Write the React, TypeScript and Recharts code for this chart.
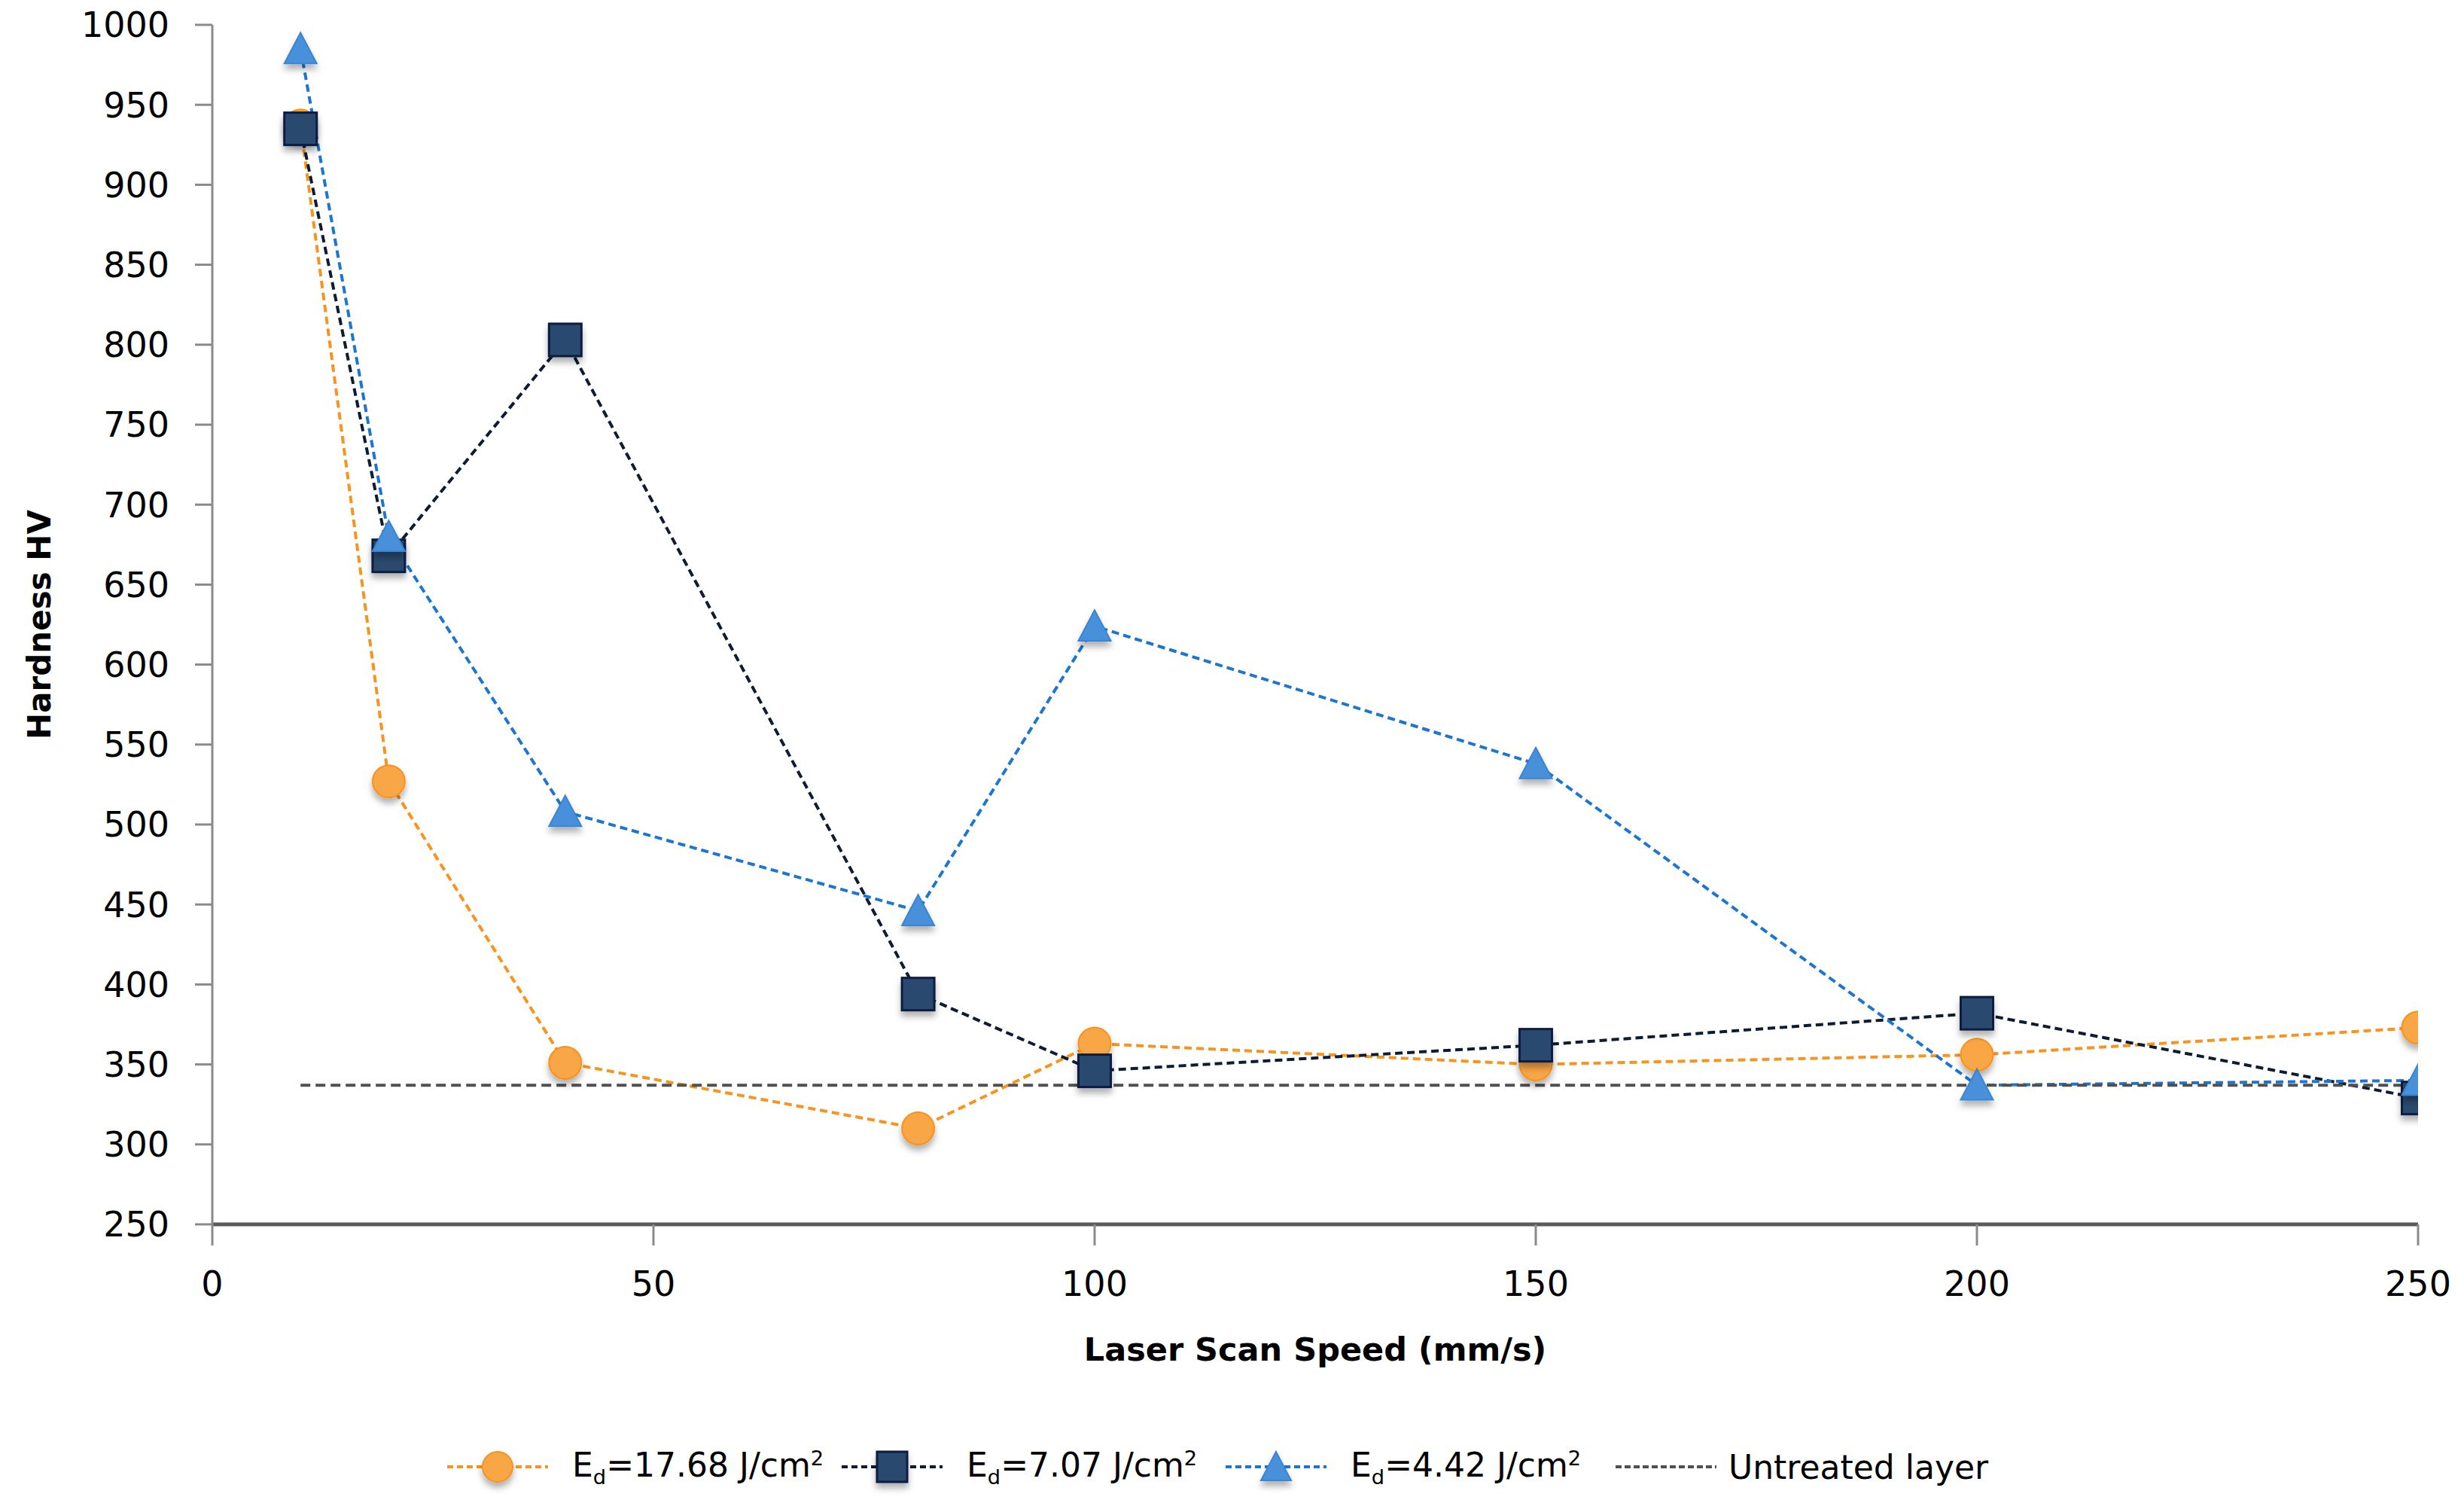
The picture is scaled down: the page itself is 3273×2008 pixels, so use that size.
import React from 'react';
import { LineChart, Line, XAxis, YAxis, Legend, Label } from 'recharts';

// scan speeds (mm/s)
const speeds = [10, 20, 40, 80, 100, 150, 200, 250];
// hardness HV for each energy density
const hv1768 = [937, 527, 351, 310, 363, 350, 356, 373];
const hv707 = [935, 668, 803, 394, 346, 362, 382, 329];
const hv442 = [985, 680, 508, 446, 624, 538, 337, 340];
// untreated layer reference, drawn between first and last speed
const untreatedX = [10, 250];
const untreatedHV = [337, 337];

const xTicks = [0, 50, 100, 150, 200, 250];
const yTicks = [250, 300, 350, 400, 450, 500, 550, 600, 650, 700, 750, 800, 850, 900, 950, 1000];

const seriesOrder = ['e1768', 'e707', 'e442', 'untreated'];

const data = speeds.map((x, i) => ({ x, e1768: hv1768[i], e707: hv707[i], e442: hv442[i] }));
const untreated = untreatedX.map((x, i) => ({ x, untreated: untreatedHV[i] }));

const FONT = '"DejaVu Sans", sans-serif';

const STYLES: Record<string, any> = {
    e1768: { line: '#F7931E', fill: '#F9A646', stroke: '#F7931E', shape: 'circle', dash: '10 6', label: '17.68' },
    e707: { line: '#0D1B33', fill: '#2B4A6E', stroke: '#0B1D3F', shape: 'square', dash: '10 6', label: '7.07' },
    e442: { line: '#1C75D2', fill: '#4A90DA', stroke: '#3A84D4', shape: 'triangle', dash: '10 6', label: '4.42' },
    untreated: { line: '#505050', shape: 'none', dash: '13 7' },
};

function Marker({ cx, cy, kind, size }: { cx: number, cy: number, kind: string, size: number }) {
    const s = STYLES[kind];
    const h = size / 2;
    if (s.shape === 'circle')
        return <circle cx={cx} cy={cy} r={h} fill={s.fill} stroke={s.stroke} strokeWidth={2} filter="url(#mshadow)" />;
    if (s.shape === 'square')
        return <rect x={cx - h} y={cy - h} width={size} height={size} fill={s.fill} stroke={s.stroke} strokeWidth={3} filter="url(#mshadow)" />;
    if (s.shape === 'triangle')
        return <polygon points={`${cx},${cy - h} ${cx + h},${cy + h * 0.9} ${cx - h},${cy + h * 0.9}`} fill={s.fill} stroke={s.stroke} strokeWidth={2} filter="url(#mshadow)" />;
    return null;
}

const dotFor = (kind: string) => (props: any) => (
    <Marker key={`${kind}-${props.index}`} cx={props.cx} cy={props.cy} kind={kind} size={43} />
);

const legendSlots = [524, 510, 518, 560];

function LegendText({ dataKey }: { dataKey: string }) {
    if (dataKey === 'untreated') return <span>Untreated layer</span>;
    return (
        <span>
            E<sub style={{ fontSize: '0.62em', verticalAlign: '-0.35em' }}>d</sub>={STYLES[dataKey].label} J/cm
            <sup style={{ fontSize: '0.62em', verticalAlign: '0.55em' }}>2</sup>
        </span>
    );
}

const renderLegend = (props: any) => {
    const payload = [...(props.payload || [])].sort(
        (a: any, b: any) => seriesOrder.indexOf(a.dataKey) - seriesOrder.indexOf(b.dataKey));
    return (
        <div style={{ display: 'flex', justifyContent: 'flex-start', paddingLeft: 594, fontFamily: FONT, fontSize: 44, color: '#000' }}>
            {payload.map((entry: any, i: number) => {
                const key = entry.dataKey;
                const s = STYLES[key];
                return (
                    <div key={key} style={{ display: 'flex', alignItems: 'center', width: legendSlots[i], flex: 'none' }}>
                        <svg width={134} height={60} style={{ marginRight: key === 'untreated' ? 16 : 32, overflow: 'visible' }}>
                            <line x1={0} y1={30} x2={134} y2={30} stroke={s.line} strokeWidth={4} strokeDasharray={key === 'untreated' ? '8 4' : '8 5'} />
                            <Marker cx={67} cy={30} kind={key} size={40} />
                        </svg>
                        <LegendText dataKey={key} />
                    </div>
                );
            })}
        </div>
    );
};

const YTitle = (props: any) => {
    const { viewBox } = props;
    const cy = viewBox.y + viewBox.height / 2;
    return (
        <text x={52} y={cy} transform={`rotate(-90, 52, ${cy})`} textAnchor="middle" dominantBaseline="central"
            fontFamily={FONT} fontWeight="bold" fontSize={42} fill="#000">Hardness HV</text>
    );
};

const XTitle = (props: any) => {
    const { viewBox } = props;
    return (
        <text x={viewBox.x + viewBox.width / 2} y={viewBox.y + 166} textAnchor="middle" dominantBaseline="central"
            fontFamily={FONT} fontWeight="bold" fontSize={43} fill="#000">Laser Scan Speed (mm/s)</text>
    );
};

const App: React.FC = () => (
    <div style={{ position: 'relative', width: 3273, height: 2008, background: '#fff' }}>
        <style>{'body{margin:0;background:#fff}'}</style>
        <svg width={0} height={0} style={{ position: 'absolute' }}>
            <defs>
                <filter id="mshadow" x="-50%" y="-50%" width="200%" height="220%">
                    <feDropShadow dx={0} dy={7} stdDeviation={4} floodColor="#000" floodOpacity={0.3} />
                </filter>
            </defs>
        </svg>
        <LineChart width={3273} height={2008} data={data} margin={{ top: 33, right: 61, bottom: 0, left: 0 }}>
            <XAxis dataKey="x" type="number" domain={[0, 250]} ticks={xTicks} allowDataOverflow
                height={382} tickSize={28} tickMargin={34}
                axisLine={{ stroke: '#5a5a5a', strokeWidth: 5 }} tickLine={{ stroke: '#8a8a8a', strokeWidth: 3 }}
                tick={{ fontFamily: FONT, fontSize: 46, fill: '#000' }}>
                <Label content={<XTitle />} />
            </XAxis>
            <YAxis type="number" domain={[250, 1000]} ticks={yTicks} interval={0} allowDataOverflow
                width={282} tickSize={23} tickMargin={34}
                axisLine={{ stroke: '#8a8a8a', strokeWidth: 3 }} tickLine={{ stroke: '#8a8a8a', strokeWidth: 3 }}
                tick={{ fontFamily: FONT, fontSize: 46, fill: '#000' }}>
                <Label content={<YTitle />} />
            </YAxis>
            <Line dataKey="e1768" name="e1768" stroke={STYLES.e1768.line} strokeWidth={4} strokeDasharray={STYLES.e1768.dash}
                dot={dotFor('e1768')} activeDot={false} isAnimationActive={false} />
            <Line dataKey="e707" name="e707" stroke={STYLES.e707.line} strokeWidth={4} strokeDasharray={STYLES.e707.dash}
                dot={dotFor('e707')} activeDot={false} isAnimationActive={false} />
            <Line dataKey="e442" name="e442" stroke={STYLES.e442.line} strokeWidth={4} strokeDasharray={STYLES.e442.dash}
                dot={dotFor('e442')} activeDot={false} isAnimationActive={false} />
            <Line data={untreated} dataKey="untreated" name="untreated" stroke={STYLES.untreated.line} strokeWidth={4}
                strokeDasharray={STYLES.untreated.dash} dot={false} activeDot={false} isAnimationActive={false} />
            <Legend content={renderLegend} verticalAlign="middle" align="center"
                wrapperStyle={{ top: 1918, left: 0, width: 3273, height: 64 }} />
        </LineChart>
    </div>
);

export default App;
